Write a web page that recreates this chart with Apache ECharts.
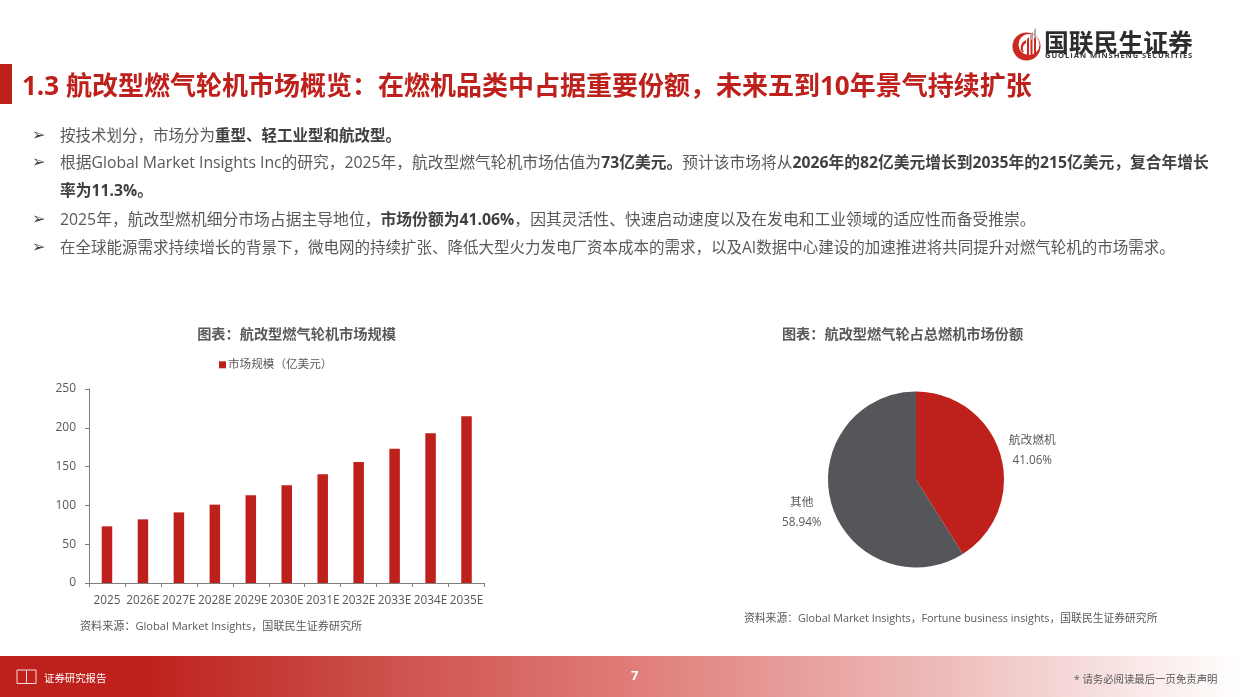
<!DOCTYPE html>
<html>
<head>
<meta charset="utf-8">
<title>航改型燃气轮机市场概览</title>
<script src="https://cdn.jsdelivr.net/npm/echarts@6/dist/echarts.min.js"></script>
<style>
html, body { margin: 0; padding: 0; background: #fff; }
body { width: 1240px; height: 697px; position: relative; overflow: hidden; font-family: "Open Sans", "Noto Sans CJK SC", sans-serif; }
#chart { position: absolute; left: 0; top: 0; width: 1240px; height: 697px; }
.abs { position: absolute; white-space: nowrap; }
.bar { left: 0; top: 64px; width: 12px; height: 40px; background: #be201b; }
.head { left: 22px; top: 66px; font-size: 26px; line-height: 38px; font-weight: 700; color: #be201b; }
.logo-cn { left: 1044px; top: 26px; font-size: 24.8px; line-height: 32px; font-weight: 700; color: #2f2c2c; }
.logo-en { left: 1045px; top: 50px; font-size: 7.6px; line-height: 11px; font-weight: 700; color: #3a3838; letter-spacing: .93px; }
.line { left: 60px; line-height: 26px; color: #595959; }
.line b { color: #404040; font-weight: 700; }
.arrow { left: 32px; font-size: 16px; line-height: 26px; color: #404040; font-family: "DejaVu Sans"; }
.src { line-height: 16px; color: #595959; }
.foot { left: 0; top: 656px; width: 1240px; height: 41px; background: linear-gradient(90deg, #be201b 0%, #bf221d 12%, #c6403b 24%, #e07d78 51%, #edbcba 76%, #fff 100%); }
.foot-l { left: 44px; top: 670px; font-size: 10.4px; line-height: 16px; color: #fff; }
.page { left: 631px; top: 666px; font-size: 13px; line-height: 18px; font-weight: 700; color: #fff; }
.foot-r { left: 1074px; top: 671px; font-size: 10.4px; line-height: 16px; color: #595959; }
</style>
</head>
<body>
<div class="abs foot"></div>
<div id="chart"></div>
<div class="abs bar"></div>
<div class="abs head">1.3 航改型燃气轮机市场概览：在燃机品类中占据重要份额，未来五到10年景气持续扩张</div>

<svg class="abs" style="left:1010px;top:26px" width="34" height="38" viewBox="0 0 34 38">
  <circle cx="16.5" cy="20.5" r="14" fill="#cc2a20"/>
  <circle cx="19" cy="18.5" r="10.5" fill="#fff"/>
  <path d="M12 26 a8 8 0 0 1 4 -12 v3 a6 6 0 0 0 -2 9Z" fill="#cc2a20"/>
  <path d="M17 31 V13 L19 11 V31Z M20.5 31 V9 L22.5 6 V30Z M24 29 V5 L26 2 V27Z" fill="#cc2a20"/>
  <path d="M20.5 9 L22.5 6 V14 H20.5Z M24 5 L26 2 V12 H24Z" fill="#b9a9a6"/>
</svg>
<div class="abs logo-cn">国联民生证券</div>
<div class="abs logo-en">GUOLIAN MINSHENG SECURITIES</div>

<div class="abs arrow" style="top:122px">➢</div>
<div class="abs line" style="top:122px;font-size:15.5px">按技术划分，市场分为<b>重型、轻工业型和航改型。</b></div>
<div class="abs arrow" style="top:149px">➢</div>
<div class="abs line" style="top:149px;font-size:15.76px">根据Global Market Insights Inc的研究，2025年，航改型燃气轮机市场估值为<b>73亿美元。</b>预计该市场将从<b>2026年的82亿美元增长到2035年的215亿美元，复合年增长</b></div>
<div class="abs line" style="top:177px;font-size:15.76px"><b>率为11.3%。</b></div>
<div class="abs arrow" style="top:206px">➢</div>
<div class="abs line" style="top:206px;font-size:15.8px">2025年，航改型燃机细分市场占据主导地位，<b>市场份额为41.06%</b>，因其灵活性、快速启动速度以及在发电和工业领域的适应性而备受推崇。</div>
<div class="abs arrow" style="top:234px">➢</div>
<div class="abs line" style="top:234px;font-size:15.5px">在全球能源需求持续增长的背景下，微电网的持续扩张、降低大型火力发电厂资本成本的需求，以及AI数据中心建设的加速推进将共同提升对燃气轮机的市场需求。</div>

<div class="abs src" style="left:80px;top:618px;font-size:11.1px">资料来源：Global Market Insights，国联民生证券研究所</div>
<div class="abs src" style="left:744px;top:610px;font-size:10.8px">资料来源：Global Market Insights，Fortune business insights，国联民生证券研究所</div>

<svg class="abs" style="left:16px;top:668px" width="22" height="18" viewBox="0 0 22 18">
  <path d="M1 2 H10.5 V15.5 H1Z M10.5 2 H20 V15.5 H10.5Z" fill="none" stroke="#f4dcdb" stroke-width="1"/>
</svg>
<div class="abs foot-l">证券研究报告</div>
<div class="abs page">7</div>
<div class="abs foot-r">* 请务必阅读最后一页免责声明</div>

<script>
var years = ['2025', '2026E', '2027E', '2028E', '2029E', '2030E', '2031E', '2032E', '2033E', '2034E', '2035E'];
var marketSize = [73, 82, 91, 101, 113, 126, 140, 156, 173, 193, 215];
var shareNames = ['航改燃机', '其他'];
var shareValues = [41.06, 58.94];

var textFont = '"Open Sans", "Noto Sans CJK SC", sans-serif';
var chart = echarts.init(document.getElementById('chart'), null, {renderer: 'canvas'});

chart.setOption({
    animation: false,
    textStyle: {fontFamily: textFont},
    title: [
        {
            text: '图表：航改型燃气轮机市场规模',
            left: 291.5, top: 323, textAlign: 'center',
            textStyle: {fontSize: 14.2, fontWeight: 'bold', color: '#595959', fontFamily: textFont}
        },
        {
            text: '图表：航改型燃气轮占总燃机市场份额',
            left: 897.5, top: 323, textAlign: 'center',
            textStyle: {fontSize: 14.2, fontWeight: 'bold', color: '#595959', fontFamily: textFont}
        }
    ],
    legend: {
        left: 214, top: 354,
        itemWidth: 7, itemHeight: 7, itemGap: 0,
        icon: 'rect',
        textStyle: {fontSize: 11.6, color: '#595959', padding: [0, 0, 0, -3]},
        data: ['市场规模（亿美元）']
    },
    grid: {left: 89, top: 389, width: 395.5, height: 194, containLabel: false},
    xAxis: {
        type: 'category',
        data: years,
        axisLine: {lineStyle: {color: '#7f7f7f', width: 1}},
        axisTick: {show: true, length: 4, lineStyle: {color: '#7f7f7f'}},
        axisLabel: {interval: 0, fontSize: 11.8, color: '#595959', margin: 12}
    },
    yAxis: {
        type: 'value',
        min: 0, max: 250, interval: 50,
        splitLine: {show: false},
        axisLine: {show: true, lineStyle: {color: '#7f7f7f', width: 1}},
        axisTick: {show: true, length: 4, lineStyle: {color: '#7f7f7f'}},
        axisLabel: {fontSize: 12, color: '#595959', margin: 13}
    },
    series: [
        {
            name: '市场规模（亿美元）',
            type: 'bar',
            data: marketSize,
            barWidth: 10.5,
            itemStyle: {color: '#be201b'}
        },
        {
            type: 'pie',
            center: [916, 479.5],
            radius: [0, 88],
            startAngle: 90,
            percentPrecision: 2,
            data: shareNames.map(function (name, i) {
                return {
                    name: name,
                    value: shareValues[i],
                    itemStyle: {color: i === 0 ? '#be201b' : '#54565a'}
                };
            }),
            label: {
                position: 'outside',
                formatter: '{a|{b}}\n{a|{d}%}',
                rich: {
                    a: {width: 48, align: 'center', fontSize: 11.7, lineHeight: 20, color: '#595959'}
                }
            },
            labelLine: {show: false, length: 8, length2: 0},
            labelLayout: function (params) {
                return params.dataIndex === 0 ? {dx: -5, dy: -2.5} : {dx: 7, dy: 7};
            }
        }
    ]
});
</script>
</body>
</html>
